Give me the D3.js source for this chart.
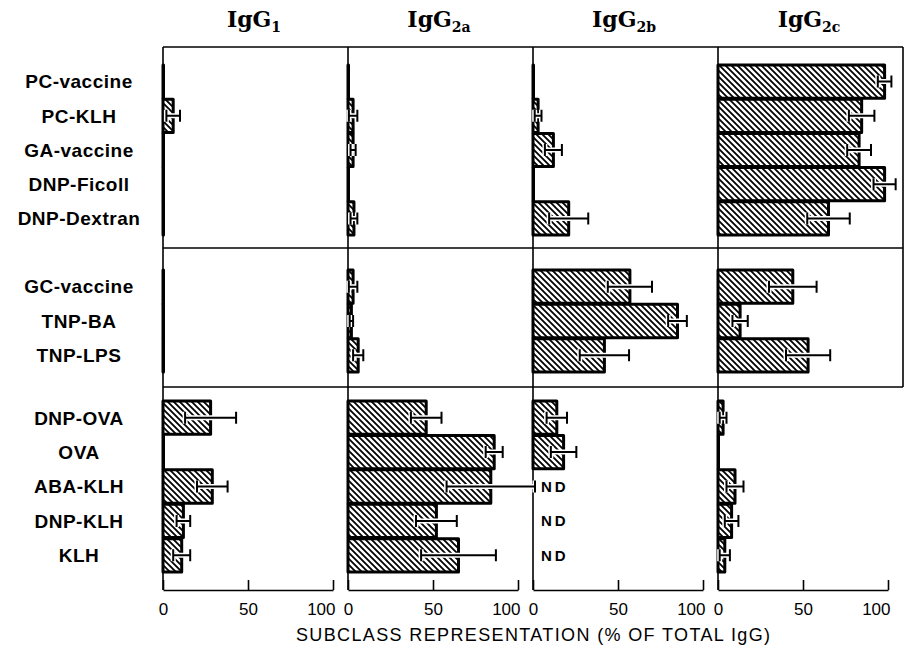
<!DOCTYPE html>
<html lang="en">
<head>
<meta charset="UTF-8">
<title>IgG subclass representation</title>
<script src="https://d3js.org/d3.v7.min.js"></script>
<style>
  body { margin: 0; background: white; }
  svg { display: block; }
  .rowlabel { font-family: "Liberation Sans", Arial, sans-serif; font-weight: bold; font-size: 19px; letter-spacing: 0.5px; }
  .tick text { font-family: "Liberation Sans", Arial, sans-serif; font-size: 17px; }
  .ptitle { font-family: "DejaVu Serif", "Liberation Serif", serif; font-weight: bold; font-size: 22px; }
  .nd { font-family: "Liberation Sans", Arial, sans-serif; font-weight: bold; font-size: 15px; letter-spacing: 3px; }
</style>
</head>
<body>
<svg width="905" height="648"></svg>
<script>
// antigens, top to bottom, and which block they sit in
const antigens = ["PC-vaccine", "PC-KLH", "GA-vaccine", "DNP-Ficoll", "DNP-Dextran",
                  "GC-vaccine", "TNP-BA", "TNP-LPS",
                  "DNP-OVA", "OVA", "ABA-KLH", "DNP-KLH", "KLH"];
const groupOf = [0, 0, 0, 0, 0, 1, 1, 1, 2, 2, 2, 2, 2];

const subclasses = ["1", "2a", "2b", "2c"];

// % of total IgG, null = ND
const igg1Mean  = [0, 6, 0, 0, 0, 0, 0, 0, 28, 0, 29, 12, 11];
const igg1Err   = [0, 4, 0, 0, 0, 0, 0, 0, 15, 0, 9, 4, 5];
const igg2aMean = [0, 3, 3, 0, 3.5, 3, 2, 6, 46, 86, 84, 52, 65];
const igg2aErr  = [0, 2.5, 1.5, 0, 2, 2.5, 1, 3, 9, 5, 26, 12, 22];
const igg2bMean = [0, 3, 12, 0, 21, 57, 85, 42, 14, 18, null, null, null];
const igg2bErr  = [0, 2, 5, 0, 11.5, 13, 5.5, 14.5, 6, 7.5, null, null, null];
const igg2cMean = [98, 84.5, 83, 98, 65, 44, 13, 53, 3, 0, 10, 8, 4];
const igg2cErr  = [4, 7.5, 7, 6.5, 12.5, 14, 4.5, 13, 2, 0, 5, 4, 3];

const tickValues = [0, 50, 100];
const axisTitle = "SUBCLASS REPRESENTATION (% OF TOTAL IgG)";

const means = [igg1Mean, igg2aMean, igg2bMean, igg2cMean];
const errs = [igg1Err, igg2aErr, igg2bErr, igg2cErr];

const svg = d3.select("svg");

// layout
const x0 = 163, panelStep = 185, panelW = 170, rightEdge = 903;
const topY = 47, sep = [248, 387], axisY = 590;
const bands = [[65, 235], [270, 372], [401, 572]];

// hatch
const defs = svg.append("defs");
const pat = defs.append("pattern")
    .attr("id", "hatch")
    .attr("patternUnits", "userSpaceOnUse")
    .attr("width", 6).attr("height", 6);
pat.append("rect").attr("width", 6).attr("height", 6).attr("fill", "white");
pat.append("path")
    .attr("d", "M0,0 L6,6 M-1,5 L1,7 M5,-1 L7,1")
    .attr("stroke", "black").attr("stroke-width", 1.8);

const yScales = bands.map((b, g) =>
    d3.scaleBand()
        .domain(antigens.filter((a, i) => groupOf[i] === g))
        .range(b)
        .paddingInner(0.03));
const yOf = i => yScales[groupOf[i]];

const xScales = subclasses.map((s, p) =>
    d3.scaleLinear().domain([0, 100]).range([x0 + p * panelStep, x0 + p * panelStep + panelW]));

// frame
const frame = svg.append("g").attr("stroke", "black").attr("stroke-width", 1.6).attr("fill", "none");
[topY, ...sep].forEach(y => frame.append("line").attr("x1", x0).attr("x2", rightEdge).attr("y1", y).attr("y2", y));
xScales.forEach(x => frame.append("line").attr("x1", x(0)).attr("x2", x(0)).attr("y1", topY).attr("y2", axisY));
frame.append("line").attr("x1", rightEdge).attr("x2", rightEdge).attr("y1", topY).attr("y2", sep[1]);

// row labels
svg.append("g").selectAll("text")
    .data(antigens)
    .join("text")
    .attr("class", "rowlabel")
    .attr("x", 79)
    .attr("y", (d, i) => yOf(i)(d) + yOf(i).bandwidth() / 2)
    .attr("dy", "0.36em")
    .attr("text-anchor", "middle")
    .text(d => d);

subclasses.forEach((s, p) => {
    const x = xScales[p];
    const g = svg.append("g");
    const rows = antigens.map((a, i) => ({ a, i, v: means[p][i], e: errs[p][i] }));

    // panel title
    const t = g.append("text")
        .attr("class", "ptitle")
        .attr("x", x(50) + 6)
        .attr("y", 27)
        .attr("text-anchor", "middle");
    t.append("tspan").text("IgG");
    t.append("tspan").attr("font-size", 14).attr("dy", 5).text(s);

    // bars (zero values still get a thick stub on the zero line)
    g.selectAll("rect.bar")
        .data(rows.filter(r => r.v !== null))
        .join("rect")
        .attr("class", "bar")
        .attr("x", x(0))
        .attr("y", r => yOf(r.i)(r.a))
        .attr("width", r => Math.max(x(r.v) - x(0), 0.5))
        .attr("height", r => yOf(r.i).bandwidth())
        .attr("fill", "url(#hatch)")
        .attr("stroke", "black")
        .attr("stroke-width", 3)
        .attr("stroke-linejoin", "round");

    // error bars
    const eb = rows.filter(r => r.v !== null && r.e > 0);
    const cy = r => yOf(r.i)(r.a) + yOf(r.i).bandwidth() / 2;
    [["white", 5], ["black", 2]].forEach(([col, w]) => {
        const eg = g.append("g").attr("stroke", col).attr("stroke-width", w).attr("fill", "none");
        eg.selectAll("path")
            .data(eb)
            .join("path")
            .attr("d", r => {
                const a = x(r.v - r.e), b = x(r.v + r.e), y = cy(r);
                return `M${a},${y}H${b}M${a},${y - 6}V${y + 6}M${b},${y - 6}V${y + 6}`;
            });
    });

    // ND labels
    g.selectAll("text.nd")
        .data(rows.filter(r => r.v === null))
        .join("text")
        .attr("class", "nd")
        .attr("x", x(0) + 8)
        .attr("y", r => cy(r))
        .attr("dy", "0.36em")
        .text("ND");

    // axis
    const ax = g.append("g")
        .attr("transform", `translate(0,${axisY})`)
        .call(d3.axisBottom(x).tickValues(tickValues).tickSizeInner(-10).tickSizeOuter(0).tickPadding(13));
    ax.select(".domain").attr("stroke-width", 1.6);
    ax.selectAll(".tick line").attr("stroke-width", 1.6);
    ax.selectAll(".tick text")
        .attr("text-anchor", d => d === 100 ? "end" : "middle")
        .attr("dx", d => d === 100 ? 2 : 0);
});

svg.append("text")
    .attr("x", 533)
    .attr("y", 641)
    .attr("text-anchor", "middle")
    .attr("font-family", "Liberation Sans, Arial, sans-serif")
    .attr("font-size", 18)
    .attr("textLength", 474)
    .text(axisTitle);
</script>
</body>
</html>
